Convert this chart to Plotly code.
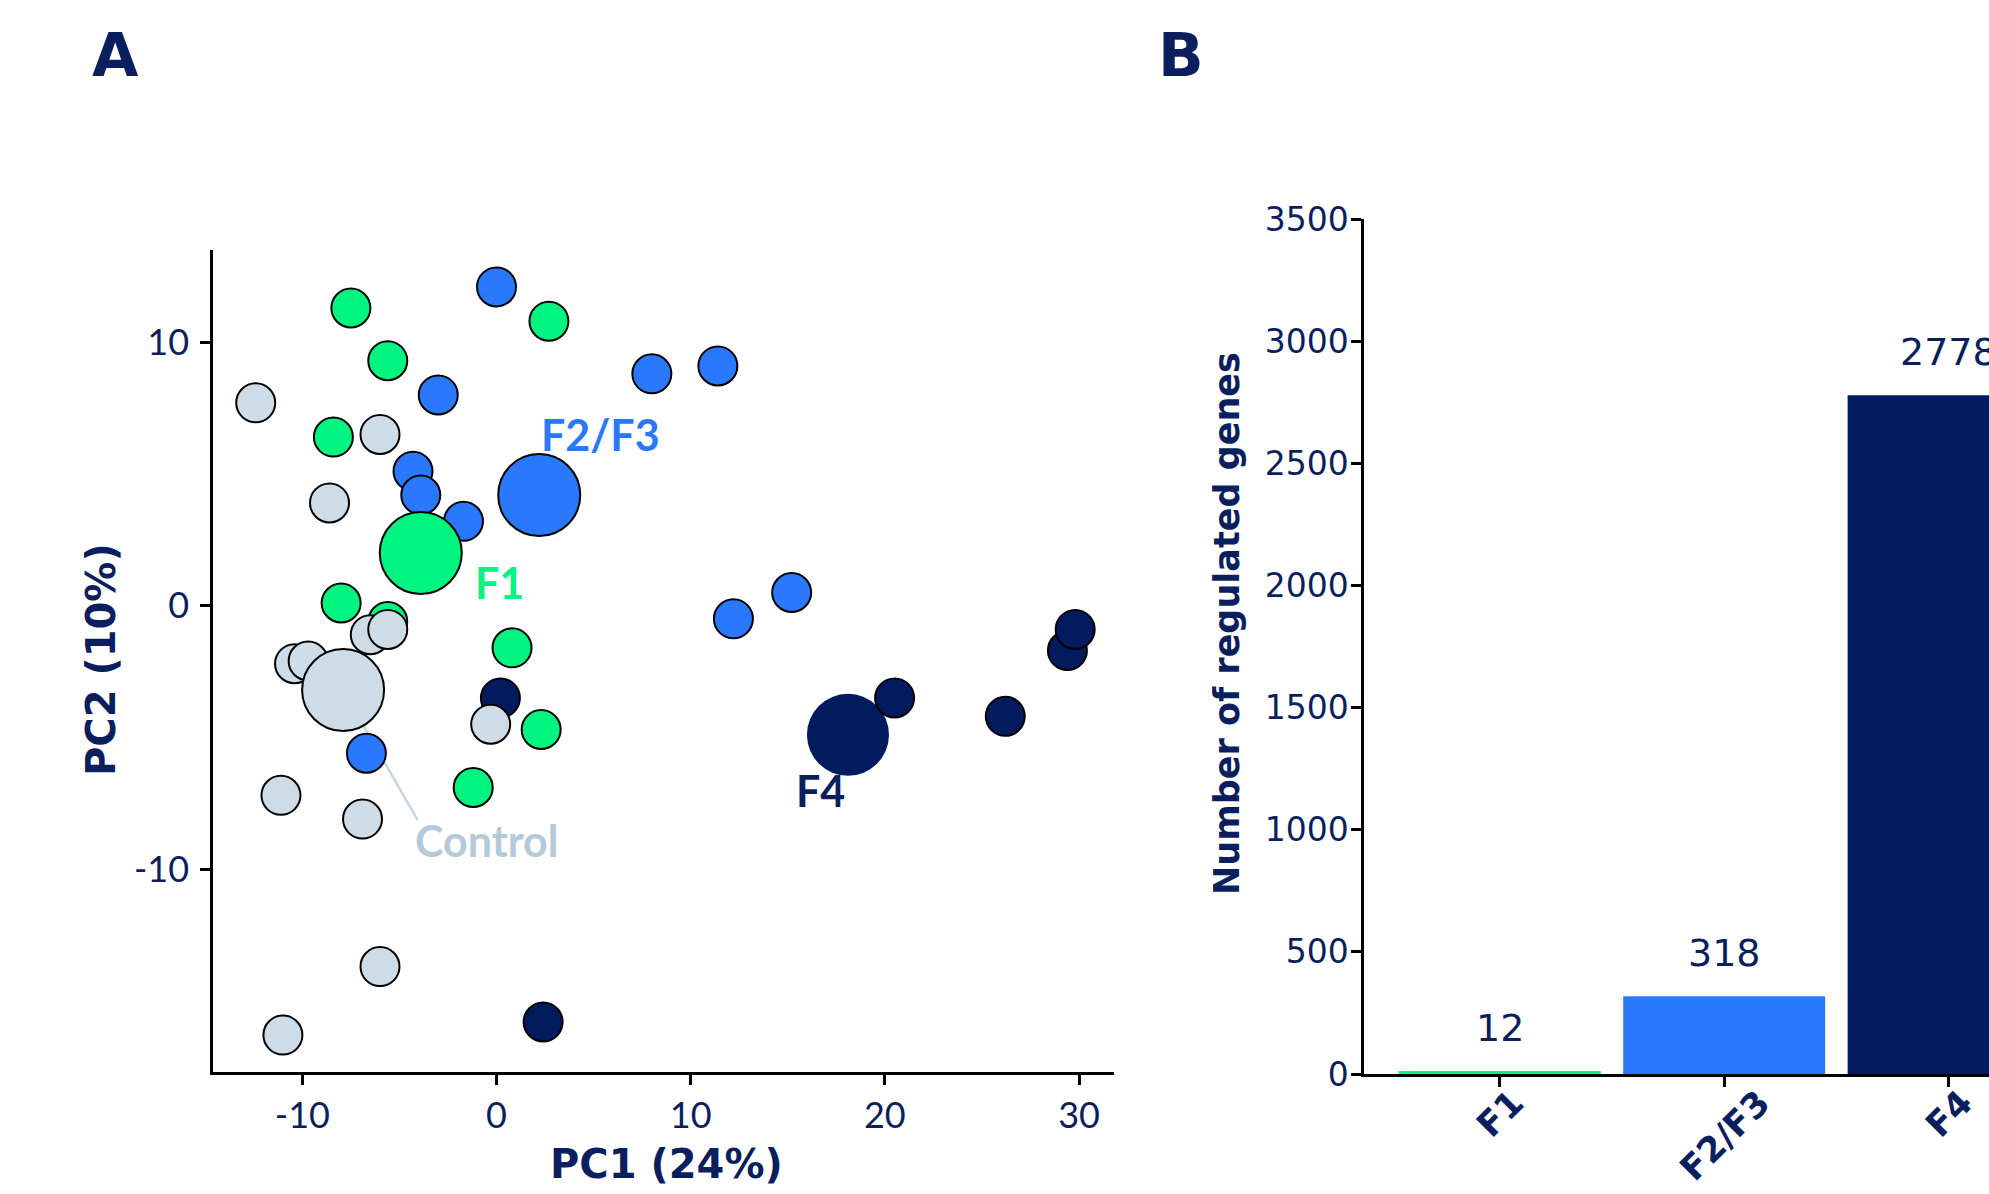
import plotly.graph_objects as go

W, H = 1989, 1194
NAVY = "#0b1f5e"
C_CTRL = "#cddce6"
C_F1 = "#00f580"
C_F23 = "#2a78fe"
C_F4 = "#021a5e"

# ---- Panel A data (PCA) ----
ctrl_x = [-12.4, -6.0, -8.6, -10.4, -9.7, -6.5, -5.6, -0.3, -11.1, -6.9, -6.0, -11.0, -7.9]
ctrl_y = [7.7, 6.5, 3.9, -2.2, -2.1, -1.1, -0.9, -4.5, -7.2, -8.1, -13.7, -16.3, -3.2]
ctrl_big = [False] * 12 + [True]

f1_x = [-3.9, -7.5, 2.7, -5.6, -8.4, -8.0, -5.6, 0.8, 2.3, -1.2]
f1_y = [2.0, 11.3, 10.8, 9.3, 6.4, 0.1, -0.6, -1.6, -4.7, -6.9]
f1_big = [True] + [False] * 9

f23_x = [2.2, 0.0, 8.0, 11.4, -3.0, -4.3, -3.9, -1.7, 12.2, 15.2, -6.7]
f23_y = [4.2, 12.1, 8.8, 9.1, 8.0, 5.1, 4.2, 3.2, -0.5, 0.5, -5.6]
f23_big = [True] + [False] * 10

f4_x = [18.1, 0.2, 20.5, 26.2, 29.4, 29.8, 2.4]
f4_y = [-4.9, -3.5, -3.5, -4.2, -1.7, -0.9, -15.8]
f4_big = [True] + [False] * 6

x_ticks = [-10, 0, 10, 20, 30]
x_ticktext = ["-10", "0", "10", "20", "30"]
y_ticks = [-10, 0, 10]
y_ticktext = ["-10", "0", "10"]

# ---- Panel B data ----
groups = ["F1", "F2/F3", "F4"]
n_genes = [12, 318, 2778]
bar_colors = [C_F1, C_F23, C_F4]
b_ticks = [0, 500, 1000, 1500, 2000, 2500, 3000, 3500]

FONT = "Lato"
FONT_W = "DejaVu Sans"

def px_x(v):
    return v / W

def px_y(v):
    return 1 - v / H

fig = go.Figure()

def add_group(xs, ys, big, color, outline_big=True):
    sizes = [82 if b else 39 for b in big]
    lw = [(2 if outline_big else 0) if b else 2 for b in big]
    fig.add_trace(go.Scatter(
        x=xs, y=ys, mode="markers", xaxis="x", yaxis="y",
        marker=dict(size=sizes, color=color, opacity=1,
                    line=dict(color="black", width=lw)),
        showlegend=False, hoverinfo="x+y"))

add_group(f4_x, f4_y, f4_big, C_F4, outline_big=False)
add_group(f23_x, f23_y, f23_big, C_F23)
add_group(f1_x, f1_y, f1_big, C_F1)
add_group(ctrl_x, ctrl_y, ctrl_big, C_CTRL)

fig.add_trace(go.Bar(
    x=groups, y=n_genes, xaxis="x2", yaxis="y2",
    marker=dict(color=bar_colors, line=dict(width=0)),
    showlegend=False, cliponaxis=True, hoverinfo="x+y"))

def a(text, x, y, size, color=NAVY, family=FONT, xref="paper", yref="paper", **kw):
    d = dict(text=text, x=x, y=y, xref=xref, yref=yref, showarrow=False,
             xanchor="center", yanchor="middle",
             font=dict(size=size, color=color, family=family))
    d.update(kw)
    return d

ann = []
ann.append(a("<b>A</b>", px_x(115), px_y(55), 60, family=FONT_W))
ann.append(a("<b>B</b>", px_x(1181), px_y(55), 60, family=FONT_W))
ann.append(a("<b>PC1 (24%)</b>", px_x(666), px_y(1164), 40, family=FONT_W))
ann.append(a("<b>PC2 (10%)</b>", px_x(101), px_y(660), 40, family=FONT_W, textangle=-90))
ann.append(a("<b>F2/F3</b>", 5.36, 6.5, 43, color=C_F23, xref="x", yref="y"))
ann.append(a("<b>F1</b>", 0.13, 0.87, 43, color=C_F1, xref="x", yref="y"))
ann.append(a("<b>F4</b>", 16.67, -7.0, 43, color=NAVY, xref="x", yref="y"))
ann.append(a("<b>Control</b>", -0.5, -8.92, 43, color="#b3cbd8", xref="x", yref="y"))
ann.append(a("<b>Number of regulated genes</b>", px_x(1227), px_y(624), 35,
             family=FONT_W, textangle=-90))
for g, v in zip(groups, n_genes):
    ann.append(a(str(v), g, v, 38, family=FONT_W, xref="x2", yref="y2",
                 yanchor="bottom", yshift=19))
    ann.append(a("<b>" + g + "</b>", g, px_y(1080), 35, family=FONT_W, xref="x2",
                 yref="paper", textangle=-45, yanchor="top"))

shapes = [dict(type="line", xref="x", yref="y", x0=-6.92, y0=-4.47, x1=-4.05, y1=-8.15,
               line=dict(color="#c5d8e2", width=2.5), layer="below")]

axis_common = dict(showgrid=False, zeroline=False, showline=True, linecolor="black",
                   linewidth=2.5, ticks="outside", ticklen=10, tickwidth=2.5,
                   tickcolor="black", automargin=False)

fig.update_layout(
    width=W, height=H, margin=dict(l=0, r=0, t=0, b=0, pad=0, autoexpand=False),
    paper_bgcolor="white", plot_bgcolor="white",
    font=dict(family=FONT, color=NAVY),
    xaxis=dict(domain=[px_x(213), px_x(1114)], range=[-14.6, 31.8], tickvals=x_ticks,
               ticktext=x_ticktext, tickfont=dict(size=36, color=NAVY, family=FONT),
               anchor="y", **axis_common),
    yaxis=dict(domain=[px_y(1072), px_y(250)], range=[-17.7, 13.5], tickvals=y_ticks,
               ticktext=y_ticktext, tickfont=dict(size=36, color=NAVY, family=FONT),
               anchor="x", ticklabelstandoff=4, **axis_common),
    xaxis2=dict(domain=[px_x(1364), 1.0], range=[-0.605, 2.18], anchor="y2",
                showticklabels=False, type="category", **axis_common),
    yaxis2=dict(domain=[px_y(1074), px_y(219)], range=[0, 3500], tickvals=b_ticks,
                tickfont=dict(size=33, color=NAVY, family=FONT_W), anchor="x2",
                ticklabelstandoff=-4, **axis_common),
    bargap=0.1,
    annotations=ann, shapes=shapes,
)

fig.write_html("out.html", config={"displayModeBar": False},
               post_script="document.body.style.margin='0';")
